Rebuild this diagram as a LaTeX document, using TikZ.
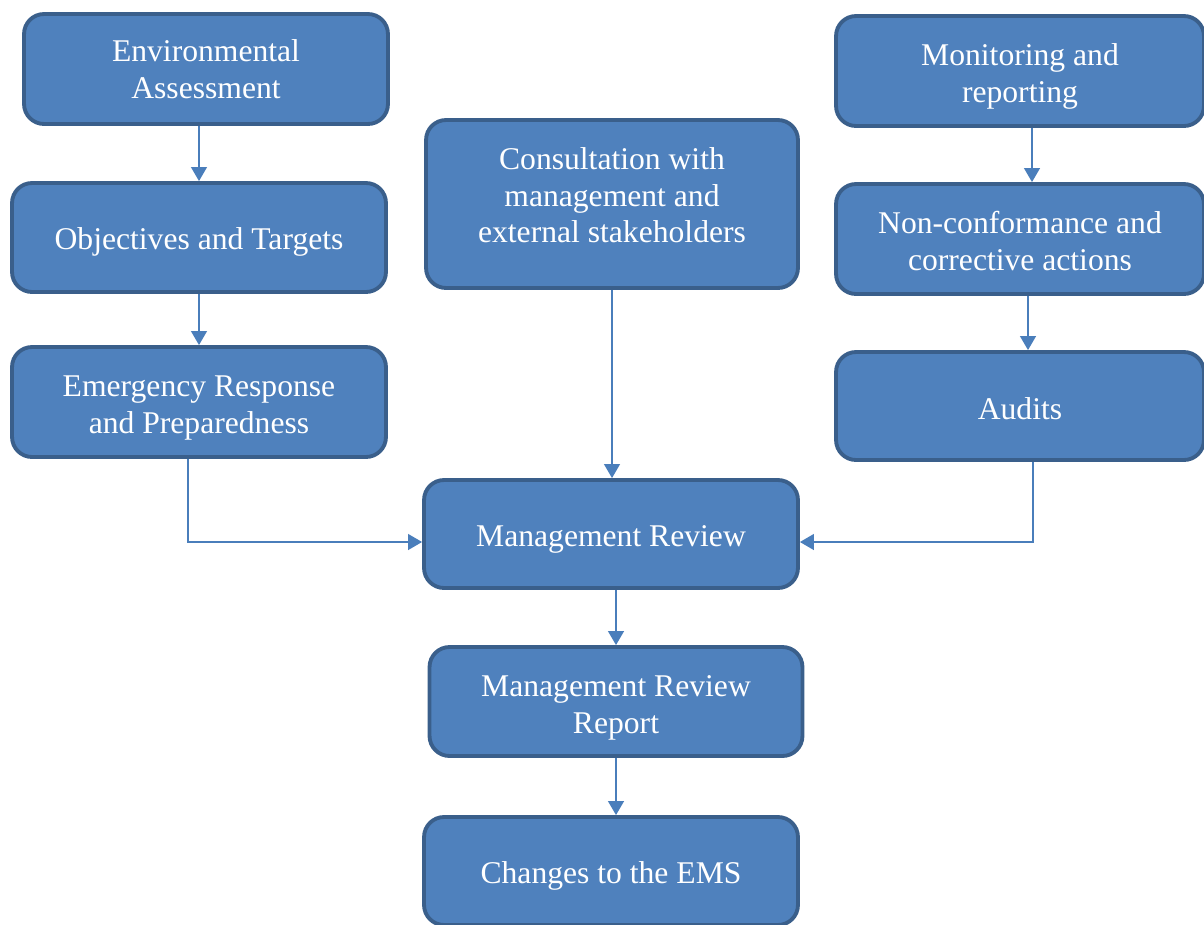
\documentclass[tikz,border=0pt]{standalone}
\usepackage{fontspec}
\setmainfont{Liberation Serif}
\usetikzlibrary{arrows.meta}
\definecolor{boxfill}{HTML}{4F81BD}
\definecolor{boxline}{HTML}{3A5F8B}
\definecolor{flowcol}{HTML}{4A7EBB}

\begin{document}
\begin{tikzpicture}[x=0.02cm, y=-0.02cm, >={Triangle[width=9pt,length=8pt]},
  box/.style={draw=boxline, fill=boxfill, line width=2.2pt, rounded corners=0.4cm,
    text=white, align=center, inner sep=0pt, font=\fontsize{18}{21}\selectfont,
    minimum width=7.48cm, minimum height=2.2cm},
  flow/.style={->, draw=flowcol, line width=1.1pt}]
  \useasboundingbox (0,0) rectangle (1204,924);
  % left column
  \node[box, minimum width=7.28cm] (env) at (206,69) {Environmental\\Assessment};
  \node[box, minimum height=2.18cm, text height=18pt] (obj) at (199,237.5) {Objectives and Targets};
  \node[box, text height=39.5pt] (emer) at (199,402) {Emergency Response\\and Preparedness};
  % middle column
  \node[box, minimum width=7.44cm, minimum height=3.36cm] (cons) at (612,204)
    {Consultation with\\management and\\external stakeholders\\[-0.38cm]};
  \node[box, minimum height=2.16cm, text height=18pt] (mr) at (611,534) {Management Review};
  \node[box, minimum width=7.46cm, minimum height=2.18cm, text height=40pt] (mrr) at (616,701.5) {Management Review\\Report};
  \node[box, minimum height=2.16cm, text height=18pt] (chg) at (611,871) {Changes to the EMS};
  % right column
  \node[box, minimum width=7.36cm, text height=40pt] (mon) at (1020,71) {Monitoring and\\reporting};
  \node[box, minimum width=7.36cm, text height=35.5pt] (non) at (1020,239) {Non-conformance and\\corrective actions};
  \node[box, minimum width=7.36cm, minimum height=2.16cm, text height=15pt] (aud) at (1020,406) {Audits};
  % connectors
  \draw[flow] (env.south -| obj.north) -- (obj.north);
  \draw[flow] (obj.south) -- (emer.north);
  \draw[flow] ([xshift=-0.22cm]emer.south) |- ([yshift=-0.16cm]mr.west);
  \draw[flow] (cons.south) -- (cons.south |- mr.north);
  \draw[flow] ([xshift=0.26cm]aud.south) |- ([yshift=-0.16cm]mr.east);
  \draw[flow] ([xshift=0.24cm]mon.south) -- ([xshift=0.24cm]non.north);
  \draw[flow] ([xshift=0.16cm]non.south) -- ([xshift=0.16cm]aud.north);
  \draw[flow] (mrr.north |- mr.south) -- (mrr.north);
  \draw[flow] (mrr.south) -- (mrr.south |- chg.north);
\end{tikzpicture}
\end{document}
